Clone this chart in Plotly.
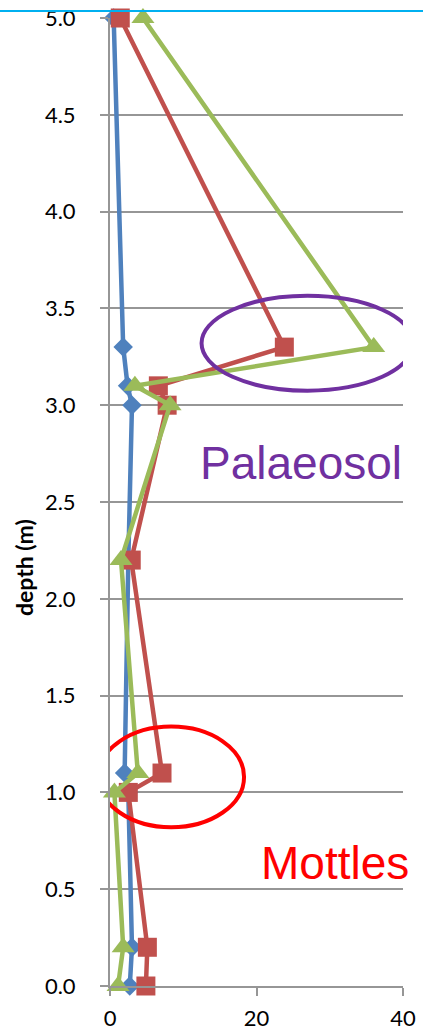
import plotly.graph_objects as go

depth = [5.0, 3.3, 3.1, 3.0, 2.2, 1.1, 1.0, 0.2, 0.0]
blue_vals = [0.5, 1.8, 2.4, 3.0, 2.5, 2.0, 2.5, 3.0, 2.7]
red_vals = [1.4, 23.8, 6.6, 7.8, 2.9, 7.1, 2.5, 5.1, 4.9]
green_vals = [4.5, 36.0, 3.4, 8.2, 1.5, 3.8, 0.6, 1.8, 1.1]

x_ticks = [0, 20, 40]
y_ticks = [0.0, 0.5, 1.0, 1.5, 2.0, 2.5, 3.0, 3.5, 4.0, 4.5, 5.0]

BLUE = "#4F81BD"
RED = "#C0504D"
GREEN = "#9BBB59"
PURPLE = "#7030A0"
GRID = "#969696"

fig = go.Figure()
fig.add_trace(go.Scatter(x=blue_vals, y=depth, mode="lines+markers",
                         line=dict(color=BLUE, width=4.5),
                         marker=dict(symbol="diamond", size=15, color=BLUE),
                         cliponaxis=False, showlegend=False))
fig.add_trace(go.Scatter(x=red_vals, y=depth, mode="lines+markers",
                         line=dict(color=RED, width=4.5),
                         marker=dict(symbol="square", size=19, color=RED),
                         cliponaxis=False, showlegend=False))
fig.add_trace(go.Scatter(x=green_vals, y=depth, mode="lines+markers",
                         line=dict(color=GREEN, width=4.5),
                         marker=dict(symbol="triangle-up", size=20, color=GREEN),
                         cliponaxis=False, showlegend=False))

# highlight ellipses
fig.add_shape(type="circle", xref="x", yref="y", x0=12.5, x1=41.4, y0=3.075, y1=3.565,
              line=dict(color=PURPLE, width=4), layer="above")
fig.add_shape(type="circle", xref="x", yref="y", x0=-1.6, x1=18.3, y0=0.82, y1=1.34,
              line=dict(color="#FF0000", width=4), layer="above")

# thin cyan rule across the top
fig.add_shape(type="line", xref="paper", yref="paper",
              x0=-110 / 293, x1=313 / 293, y0=1.0072, y1=1.0072,
              line=dict(color="#00B0F0", width=2))

fig.add_annotation(x=26.1, y=2.70, xref="x", yref="y", text="Palaeosol",
                   showarrow=False, font=dict(family="Liberation Sans", size=46, color=PURPLE))
fig.add_annotation(x=30.7, y=0.635, xref="x", yref="y", text="Mottles",
                   showarrow=False, font=dict(family="Liberation Sans", size=46, color="#FF0000"))

# y-axis title
fig.add_annotation(x=-86 / 293, y=(986 - 568) / 968, xref="paper", yref="paper",
                   xanchor="center", yanchor="middle",
                   text="<b>depth (m)</b>", textangle=-90, showarrow=False,
                   font=dict(family="Lato", size=23, color="#000000"))

fig.update_xaxes(range=[0, 40], tickvals=x_ticks, ticktext=[str(v) for v in x_ticks],
                 showgrid=False, zeroline=False, showline=True, linecolor=GRID, linewidth=2,
                 ticks="outside", ticklen=8, tickcolor=GRID, tickwidth=2,
                 ticklabelstandoff=4, automargin=False,
                 tickfont=dict(family="Lato", size=22, color="#000000"))
fig.update_yaxes(range=[0, 5], tickvals=y_ticks, ticktext=[f"{v:.1f}" for v in y_ticks],
                 showgrid=True, gridcolor=GRID, gridwidth=2, zeroline=False,
                 showline=True, linecolor=GRID, linewidth=2,
                 ticks="outside", ticklen=8, tickcolor=GRID, tickwidth=2,
                 ticklabelstandoff=20, automargin=False,
                 tickfont=dict(family="Lato", size=22, color="#000000"))

fig.update_layout(width=423, height=1030,
                  margin=dict(l=110, r=20, t=18, b=44),
                  plot_bgcolor="#FFFFFF", paper_bgcolor="#FFFFFF")

fig.write_html("out.html")
